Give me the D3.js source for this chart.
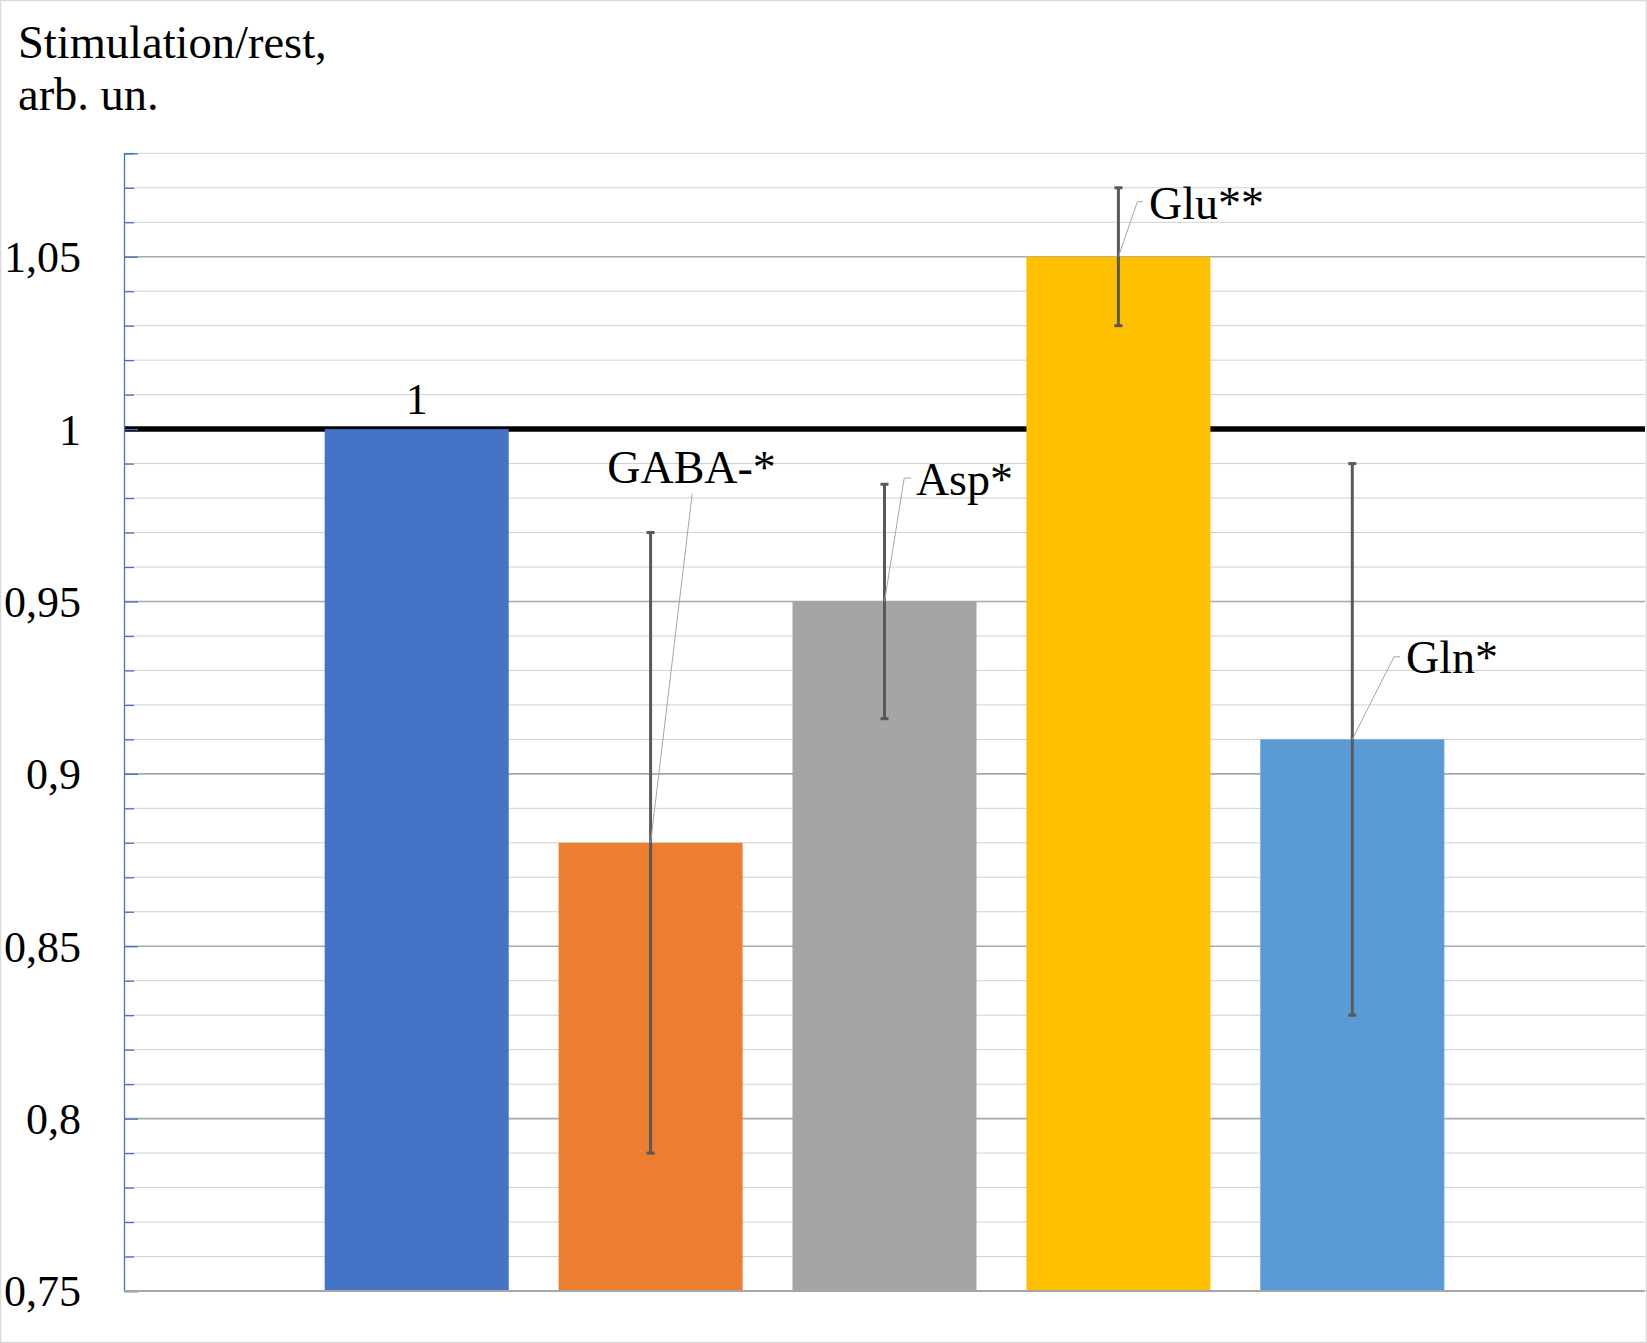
<!DOCTYPE html>
<html>
<head>
<meta charset="utf-8">
<script src="https://cdn.jsdelivr.net/npm/d3@7"></script>
<style>
  html, body { margin: 0; padding: 0; background: #fff; }
  svg { display: block; }
  text { font-family: "Liberation Serif", "Times New Roman", serif; fill: #000; }
</style>
</head>
<body>
<svg id="chart" width="1647" height="1343"></svg>
<script>
// ---------------- data ----------------
const categories = ["Control", "GABA", "Asp", "Glu", "Gln"];
const values     = [1.00, 0.88, 0.95, 1.05, 0.91];
const errors     = [null, 0.09, 0.034, 0.02, 0.08];
const labels     = ["1", "GABA-*", "Asp*", "Glu**", "Gln*"];
const colors     = ["#4472c4", "#ed7d31", "#a5a5a5", "#ffc000", "#5b9bd5"];
const majorTicks = [0.75, 0.80, 0.85, 0.90, 0.95, 1.00, 1.05];
const majorTickLabels = ["0,75", "0,8", "0,85", "0,9", "0,95", "1", "1,05"];
const minorTicks = [0.76,0.77,0.78,0.79,0.81,0.82,0.83,0.84,0.86,0.87,0.88,0.89,
                    0.91,0.92,0.93,0.94,0.96,0.97,0.98,0.99,1.01,1.02,1.03,1.04,
                    1.06,1.07,1.08];
const referenceValue = 1.0;
const titleLines = ["Stimulation/rest,", "arb. un."];

// ---------------- layout ----------------
const W = 1647, H = 1343;
const plot = { left: 124, right: 1645, top: 153.3, bottom: 1291 };
// label placement offsets (px) relative to bar center / bar top
const labelLayout = [
  { dx: 0,     dy: -15,  anchor: "middle", leader: null },
  { dx: -43.4, dy: -360, anchor: "start",  leader: { x: 41.6, y: -349, h: 0 } },
  { dx: 31.4,  dy: -106.7, anchor: "start", leader: { x: 19.7, y: -123.4, h: 6.7 } },
  { dx: 30.6,  dy: -37.4, anchor: "start", leader: { x: 19,   y: -55,   h: 5.6 } },
  { dx: 53.7,  dy: -66.6, anchor: "start", leader: { x: 41.7, y: -82.6, h: 6 } }
];

const svg = d3.select("#chart");

const x = d3.scaleBand()
  .domain(categories)
  .range([plot.left, plot.right])
  .paddingInner(0.2133)
  .paddingOuter(0.858);

const y = d3.scaleLinear()
  .domain([0.75, 1.08])
  .range([plot.bottom, plot.top]);

// outer border
svg.append("rect")
  .attr("x", 0.5).attr("y", 0.5)
  .attr("width", W - 1).attr("height", H - 1)
  .attr("fill", "#fff").attr("stroke", "#d9d9d9").attr("stroke-width", 1.5);

// minor gridlines
svg.append("g").selectAll("line").data(minorTicks).join("line")
  .attr("x1", plot.left).attr("x2", plot.right)
  .attr("y1", d => y(d)).attr("y2", d => y(d))
  .attr("stroke", "#d0d0d0").attr("stroke-width", 1);

// major gridlines
svg.append("g").selectAll("line").data(majorTicks).join("line")
  .attr("x1", plot.left).attr("x2", plot.right)
  .attr("y1", d => y(d)).attr("y2", d => y(d))
  .attr("stroke", "#a9a9a9").attr("stroke-width", 1.6);

// reference line at 1
svg.append("line")
  .attr("x1", plot.left).attr("x2", plot.right)
  .attr("y1", y(referenceValue)).attr("y2", y(referenceValue))
  .attr("stroke", "#000").attr("stroke-width", 5.5);

// bars
svg.append("g").selectAll("rect").data(values).join("rect")
  .attr("x", (d, i) => x(categories[i]))
  .attr("width", x.bandwidth())
  .attr("y", d => y(d))
  .attr("height", d => y(0.75) - y(d))
  .attr("fill", (d, i) => colors[i]);

// y axis ticks (blue, inward)
const minorAxis = d3.axisRight(y).tickValues(minorTicks).tickSize(10).tickFormat("");
const majorAxis = d3.axisRight(y).tickValues(majorTicks).tickSize(14).tickFormat("");
const gMinor = svg.append("g").attr("transform", `translate(${plot.left},0)`).call(minorAxis);
gMinor.select(".domain").remove();
gMinor.selectAll("line").attr("stroke", "#4472c4").attr("stroke-width", 1.3);
const gMajor = svg.append("g").attr("transform", `translate(${plot.left},0)`).call(majorAxis);
gMajor.select(".domain").attr("stroke", "#4472c4").attr("stroke-width", 1.3);
gMajor.selectAll("line").attr("stroke", "#4472c4").attr("stroke-width", 1.3);

// tick labels
const labelAxis = d3.axisLeft(y).tickValues(majorTicks).tickSize(0).tickPadding(43)
  .tickFormat((d, i) => majorTickLabels[i]);
const gLab = svg.append("g").attr("transform", `translate(${plot.left},0)`).call(labelAxis);
gLab.select(".domain").remove();
gLab.selectAll("text")
  .attr("font-family", "Liberation Serif, Times New Roman, serif")
  .attr("font-size", 44).attr("fill", "#000").attr("dy", "0.34em");

// bottom axis line
svg.append("line")
  .attr("x1", plot.left).attr("x2", plot.right)
  .attr("y1", y(0.75)).attr("y2", y(0.75))
  .attr("stroke", "#a6a6a6").attr("stroke-width", 2);

// error bars
const cx = i => x(categories[i]) + x.bandwidth() / 2;
const errData = values.map((v, i) => ({ v, e: errors[i], i })).filter(d => d.e != null);
const gErr = svg.append("g").attr("stroke", "#595959").attr("stroke-width", 3);
errData.forEach(d => {
  const xc = cx(d.i);
  gErr.append("line").attr("x1", xc).attr("x2", xc)
    .attr("y1", y(d.v + d.e)).attr("y2", y(d.v - d.e));
  [d.v + d.e, d.v - d.e].forEach(t => {
    gErr.append("line").attr("x1", xc - 4).attr("x2", xc + 4)
      .attr("y1", y(t)).attr("y2", y(t));
  });
});

// leader lines
const gLead = svg.append("g").attr("fill", "none").attr("stroke", "#a6a6a6").attr("stroke-width", 1);
values.forEach((v, i) => {
  const L = labelLayout[i].leader;
  if (!L) return;
  const x0 = cx(i), y0 = y(v);
  const pts = [[x0, y0], [x0 + L.x, y0 + L.y]];
  if (L.h) pts.push([x0 + L.x + L.h, y0 + L.y]);
  gLead.append("path").attr("d", d3.line()(pts));
});

// data labels
svg.append("g").selectAll("text").data(labels).join("text")
  .attr("x", (d, i) => cx(i) + labelLayout[i].dx)
  .attr("y", (d, i) => y(values[i]) + labelLayout[i].dy)
  .attr("text-anchor", (d, i) => labelLayout[i].anchor)
  .attr("font-size", (d, i) => i === 0 ? 44 : 46)
  .text(d => d);

// title
svg.append("g").selectAll("text").data(titleLines).join("text")
  .attr("x", 18)
  .attr("y", (d, i) => 57.7 + i * 52.3)
  .attr("font-size", 46.5)
  .text(d => d);
</script>
</body>
</html>
